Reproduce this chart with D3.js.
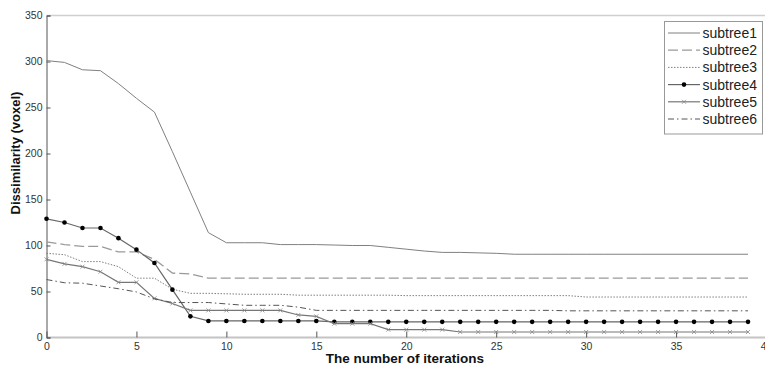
<!DOCTYPE html>
<html>
<head>
<meta charset="utf-8">
<script src="https://cdn.jsdelivr.net/npm/d3@7"></script>
<style>
  body { margin: 0; background: #fff; }
  svg text { font-family: Arial, "Liberation Sans", sans-serif; }
</style>
</head>
<body>
<div id="chart"></div>
<script>
// values, one entry per iteration 0..39
var iterations = d3.range(0, 40);
var subtree1 = [301, 299, 291, 290, 276, 260, 245, 202, 158, 114, 103, 103, 103, 101, 101, 101, 100.5, 100, 100, 98,
  96, 94, 92.5, 92.5, 92, 91.5, 90.5, 90.5, 90.5, 90.5, 90.5, 90.5, 90.5, 90.5, 90.5, 90.5, 90.5, 90.5, 90.5, 90.5];
var subtree2 = [104, 101, 99, 99, 93, 93, 85, 70, 69, 64.5, 64.5, 64.5, 64.5, 64.5, 64.5, 64.5, 64.5, 64.5, 64.5, 64.5,
  64.5, 64.5, 64.5, 64.5, 64.5, 64.5, 64.5, 64.5, 64.5, 64.5, 64.5, 64.5, 64.5, 64.5, 64.5, 64.5, 64.5, 64.5, 64.5, 64.5];
var subtree3 = [91.5, 90, 82.5, 82.5, 77, 64.5, 64.5, 52.5, 48, 48, 47.5, 47, 47, 47, 46, 46, 46, 46, 46, 46,
  45.5, 45.5, 45.5, 45.5, 45.5, 45.5, 45.5, 45.5, 45.5, 45.5, 44, 44, 44, 44, 44, 44, 44, 44, 44, 44];
var subtree4 = [129, 125, 119, 119, 108, 95.5, 81, 52, 23, 18, 18, 18, 18, 18, 18, 18, 17, 17, 17, 17,
  17, 17, 17, 17, 17, 17, 17, 17, 17, 17, 17, 17, 17, 17, 17, 17, 17, 17, 17, 17];
var subtree5 = [85, 80, 77, 71.5, 60, 60, 42.5, 37, 29.5, 29.5, 29.5, 29.5, 29.5, 29.5, 24.5, 23, 15, 15, 15, 8.5,
  8.5, 8.5, 8.5, 6, 6, 6, 6, 6, 6, 6, 6, 6, 6, 6, 6, 6, 6, 6, 6, 6];
var subtree6 = [63, 59.5, 59, 56, 53, 49.5, 42, 38, 38, 38, 36.5, 35, 35, 35, 33, 29.5, 29.5, 29.5, 29.5, 29.5,
  29.5, 29.5, 29.5, 29.5, 29.5, 29.5, 29.5, 29.5, 29.5, 29, 29, 29, 29, 29, 29, 29, 29, 29, 29, 29];
var seriesNames = ['subtree1', 'subtree2', 'subtree3', 'subtree4', 'subtree5', 'subtree6'];
var xTicks = [0, 5, 10, 15, 20, 25, 30, 35, 40];
var yTicks = [0, 50, 100, 150, 200, 250, 300, 350];

var width = 765, height = 366;
var plotL = 46.5, plotR = 766, plotT = 15.5, plotB = 337.5;

var svg = d3.select('#chart').append('svg')
  .attr('width', width)
  .attr('height', height);

var x = d3.scaleLinear().domain([0, 40]).range([plotL, plotR]);
var y = d3.scaleLinear().domain([0, 350]).range([plotB, plotT]);

// frame
svg.append('line')
  .attr('x1', plotL).attr('x2', width)
  .attr('y1', plotT).attr('y2', plotT)
  .attr('stroke', '#cfcfcf').attr('stroke-width', 1.5);
svg.append('line')
  .attr('x1', plotL).attr('x2', width)
  .attr('y1', plotB).attr('y2', plotB)
  .attr('stroke', '#c4c4c4').attr('stroke-width', 2);

var xAxis = svg.append('g')
  .attr('transform', 'translate(0,' + plotB + ')')
  .call(d3.axisBottom(x).tickValues(xTicks).tickSize(-6).tickPadding(5));
xAxis.select('.domain').remove();
xAxis.selectAll('line').attr('stroke', '#555');
xAxis.selectAll('text').attr('font-size', 10.5).attr('fill', '#333');

var yAxis = svg.append('g')
  .attr('transform', 'translate(' + plotL + ',0)')
  .call(d3.axisLeft(y).tickValues(yTicks).tickSize(-4).tickPadding(4));
yAxis.select('.domain').attr('stroke', '#555');
yAxis.selectAll('line').attr('stroke', '#555');
yAxis.selectAll('text').attr('font-size', 10.5).attr('fill', '#333');

// axis titles
svg.append('text')
  .attr('x', 405).attr('y', 363)
  .attr('text-anchor', 'middle')
  .attr('font-size', 13.5).attr('font-weight', 'bold').attr('fill', '#111')
  .text('The number of iterations');
svg.append('text')
  .attr('transform', 'translate(20,153) rotate(-90)')
  .attr('text-anchor', 'middle')
  .attr('font-size', 13).attr('font-weight', 'bold').attr('fill', '#111')
  .text('Dissimilarity (voxel)');

var styles = [
  { color: '#808080', dash: null, width: 1 },
  { color: '#9a9a9a', dash: '10,4', width: 1.3 },
  { color: '#808080', dash: '1.5,1.5', width: 1 },
  { color: '#666', dash: null, width: 1.2, marker: 'dot' },
  { color: '#777', dash: null, width: 1.2, marker: 'x' },
  { color: '#555', dash: '6,3,1.5,3', width: 1 }
];
var allSeries = [subtree1, subtree2, subtree3, subtree4, subtree5, subtree6];

var line = d3.line()
  .x(function(d, i) { return x(iterations[i]); })
  .y(function(d) { return y(d); });

allSeries.forEach(function(vals, k) {
  var st = styles[k];
  svg.append('path')
    .attr('d', line(vals))
    .attr('fill', 'none')
    .attr('stroke', st.color)
    .attr('stroke-width', st.width)
    .attr('stroke-dasharray', st.dash);
  if (st.marker === 'dot') {
    svg.selectAll('.dot')
      .data(vals)
      .enter()
      .append('circle')
      .attr('cx', function(d, i) { return x(iterations[i]); })
      .attr('cy', function(d) { return y(d); })
      .attr('r', 2.3)
      .attr('fill', '#000');
  }
  if (st.marker === 'x') {
    svg.selectAll('.xm')
      .data(vals)
      .enter()
      .append('path')
      .attr('d', function(d, i) {
        var cx = x(iterations[i]), cy = y(d), s = 2;
        return 'M' + (cx - s) + ',' + (cy - s) + 'L' + (cx + s) + ',' + (cy + s) +
          'M' + (cx - s) + ',' + (cy + s) + 'L' + (cx + s) + ',' + (cy - s);
      })
      .attr('stroke', '#888')
      .attr('stroke-width', 0.8);
  }
});

// legend
var lg = svg.append('g');
lg.append('rect')
  .attr('x', 664.5).attr('y', 21.5)
  .attr('width', 98).attr('height', 112.5)
  .attr('fill', '#fff').attr('stroke', '#999');
seriesNames.forEach(function(name, k) {
  var st = styles[k];
  var yy = 33 + k * 17.2;
  lg.append('line')
    .attr('x1', 668).attr('x2', 700)
    .attr('y1', yy).attr('y2', yy)
    .attr('stroke', st.color)
    .attr('stroke-width', st.width)
    .attr('stroke-dasharray', st.dash);
  if (st.marker === 'dot') {
    lg.append('circle').attr('cx', 684).attr('cy', yy).attr('r', 2.3).attr('fill', '#000');
  }
  if (st.marker === 'x') {
    lg.append('path')
      .attr('d', 'M682,' + (yy - 2) + 'L686,' + (yy + 2) + 'M682,' + (yy + 2) + 'L686,' + (yy - 2))
      .attr('stroke', '#888').attr('stroke-width', 0.8);
  }
  lg.append('text')
    .attr('x', 702.5).attr('y', yy + 5)
    .attr('font-size', 14).attr('fill', '#222')
    .text(name);
});
</script>
</body>
</html>
